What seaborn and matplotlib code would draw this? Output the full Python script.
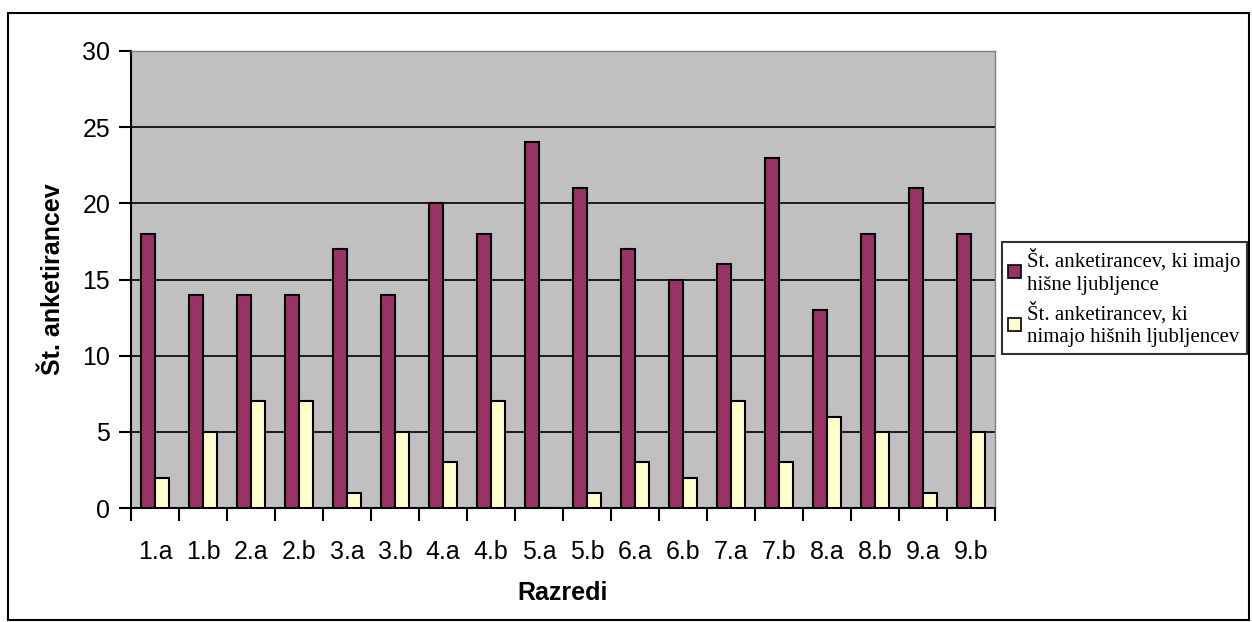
import numpy as np
import pandas as pd
import matplotlib.pyplot as plt
import seaborn as sns
from matplotlib.patches import Rectangle

# data
razredi = ["1.a", "1.b", "2.a", "2.b", "3.a", "3.b", "4.a", "4.b", "5.a",
           "5.b", "6.a", "6.b", "7.a", "7.b", "8.a", "8.b", "9.a", "9.b"]
imajo = [18, 14, 14, 14, 17, 14, 20, 18, 24, 21, 17, 15, 16, 23, 13, 18, 21, 18]
nimajo = [2, 5, 7, 7, 1, 5, 3, 7, 0, 1, 3, 2, 7, 3, 6, 5, 1, 5]
serije = ["Št. anketirancev, ki imajo\nhišne ljubljence",
          "Št. anketirancev, ki\nnimajo hišnih ljubljencev"]

df = pd.DataFrame({
    "Razred": razredi * 2,
    "Vrednost": imajo + nimajo,
    "Serija": [serije[0]] * len(razredi) + [serije[1]] * len(razredi),
})

sns.set_style("white")
plt.rcParams["font.family"] = ["Liberation Sans", "DejaVu Sans"]
plt.rcParams["text.color"] = "black"
plt.rcParams["axes.labelcolor"] = "black"
plt.rcParams["xtick.color"] = "black"
plt.rcParams["ytick.color"] = "black"

fig = plt.figure(figsize=(12.52, 6.22), dpi=100)
ax = fig.add_axes([131 / 1252, 1 - 508 / 622, 864 / 1252, 457 / 622])
ax.set_facecolor("#C0C0C0")

sns.barplot(data=df, x="Razred", y="Vrednost", hue="Serija", ax=ax,
            palette=["#993366", "#FFFFCC"], saturation=1, width=0.6,
            edgecolor="black", linewidth=1.5, legend=True, zorder=3)

ax.set_ylim(0, 30)
ax.set_xlim(-0.5, len(razredi) - 0.5)
ax.set_yticks(range(0, 31, 5))
ax.yaxis.grid(True, color="black", linewidth=1.2, zorder=1)
ax.set_axisbelow(True)

ax.set_xticks(np.arange(-0.5, len(razredi), 1), minor=True)
ax.tick_params(axis="x", which="major", length=0, pad=23, labelsize=18)
ax.tick_params(axis="x", which="minor", length=9, width=1.5, color="black",
               direction="out", bottom=True)
ax.tick_params(axis="y", length=9, width=1.5, color="black", direction="out",
               left=True, labelsize=18, pad=6)

for side in ["left", "bottom"]:
    ax.spines[side].set_color("black")
    ax.spines[side].set_linewidth(1.5)
for side in ["top", "right"]:
    ax.spines[side].set_color("#808080")
    ax.spines[side].set_linewidth(1)

ax.set_xlabel("Razredi", fontsize=18, fontweight="bold", labelpad=12)
ax.set_ylabel("Št. anketirancev", fontsize=18, fontweight="bold", labelpad=12)

leg = ax.legend(loc="upper left",
                bbox_to_anchor=((1002 - 131) / 864, 1 - (242 - 51) / 457),
                frameon=True, fancybox=False, edgecolor="black",
                prop={"family": "Liberation Serif", "size": 15},
                handlelength=0.6, handleheight=0.6, handletextpad=0.3,
                borderpad=0.3, labelspacing=0.3, borderaxespad=0)
leg.get_frame().set_linewidth(1.5)
for t in leg.get_texts():
    t.set_linespacing(1.3)
for h in leg.legend_handles:
    h.set_edgecolor("black")
    h.set_linewidth(1.2)

# outer chart border
fig.patches.append(Rectangle((8 / 1252, 1 - 620 / 622), 1241 / 1252, 607 / 622,
                             transform=fig.transFigure, fill=False,
                             edgecolor="black", linewidth=1.5))

fig.savefig("out.png", dpi=100)
